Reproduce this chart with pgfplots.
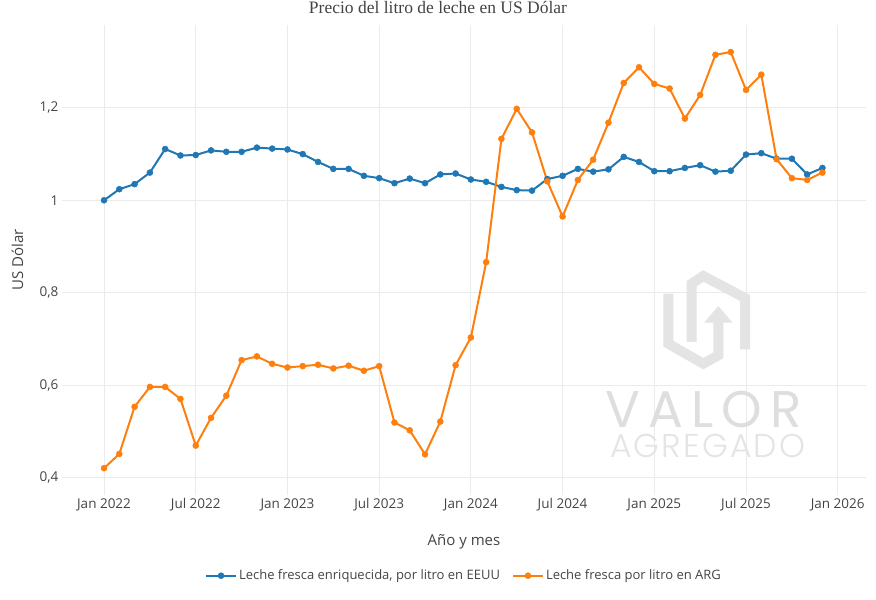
\documentclass[border=0pt]{standalone}
\usepackage{pgfplots}
\pgfplotsset{compat=1.18}
\usepackage{fontspec}
\setmainfont{Open Sans}
\newfontfamily\titlefont{Liberation Serif}
\newfontfamily\wmfont{Poppins}
\newfontfamily\wmlight{Poppins Light}
\definecolor{cblue}{HTML}{1F77B4}
\definecolor{corange}{HTML}{FF7F0E}
\definecolor{txt}{HTML}{444444}
\definecolor{gridc}{HTML}{EBEBEB}
\definecolor{wm}{HTML}{DEDEDE}
\definecolor{wmb}{HTML}{E4E4E4}

\pgfplotstableread{
m v
0 1.000
1 1.024
2 1.035
3 1.060
4 1.111
5 1.097
6 1.098
7 1.108
8 1.105
9 1.105
10 1.114
11 1.112
12 1.110
13 1.100
14 1.083
15 1.068
16 1.068
17 1.053
18 1.048
19 1.037
20 1.047
21 1.037
22 1.056
23 1.058
24 1.045
25 1.040
26 1.029
27 1.022
28 1.021
29 1.046
30 1.053
31 1.068
32 1.062
33 1.067
34 1.094
35 1.083
36 1.063
37 1.063
38 1.070
39 1.076
40 1.062
41 1.064
42 1.099
43 1.102
44 1.090
45 1.090
46 1.056
47 1.070
}\usa

\pgfplotstableread{
m v
0 0.420
1 0.451
2 0.553
3 0.596
4 0.596
5 0.570
6 0.469
7 0.529
8 0.577
9 0.654
10 0.662
11 0.646
12 0.638
13 0.641
14 0.644
15 0.636
16 0.642
17 0.631
18 0.641
19 0.519
20 0.502
21 0.450
22 0.521
23 0.643
24 0.703
25 0.866
26 1.133
27 1.198
28 1.147
29 1.041
30 0.965
31 1.044
32 1.088
33 1.168
34 1.254
35 1.288
36 1.252
37 1.242
38 1.177
39 1.228
40 1.315
41 1.321
42 1.239
43 1.272
44 1.089
45 1.048
46 1.044
47 1.060
}\arg

\begin{document}
\begin{tikzpicture}
\path[use as bounding box] (0pt,0pt) rectangle (876pt,600pt);
\begin{axis}[
  at={(62pt,105pt)}, anchor=south west,
  scale only axis, width=804pt, height=470pt,
  xmin=-2.75, xmax=49.85, ymin=0.362, ymax=1.3795,
  xtick={0,6,12,18,24,30,36,42,48},
  xticklabels={Jan 2022,Jul 2022,Jan 2023,Jul 2023,Jan 2024,Jul 2024,Jan 2025,Jul 2025,Jan 2026},
  ytick={0.4,0.6,0.8,1,1.2},
  /pgf/number format/assume math mode=true,
  /pgf/number format/use comma,
  /pgf/number format/fixed,
  /pgf/number format/precision=1,
  grid=major,
  major grid style={gridc, line width=1pt},
  axis line style={draw=none},
  tick style={draw=none},
  tick label style={font=\fontsize{13.5}{16}\selectfont, text=txt},
  xlabel={Año y mes},
  ylabel={US Dólar},
  label style={font=\fontsize{15}{18}\selectfont, text=txt},
  xlabel style={at={(axis description cs:0.5,-0.099)}, anchor=center},
  ylabel style={at={(axis description cs:-0.0553,0.5)}, anchor=center},
  legend columns=2,
  legend style={at={(axis description cs:0.5,-0.1717)}, anchor=center, draw=none, fill=none,
    font=\fontsize{13}{16}\selectfont, text=txt,
    /tikz/every even column/.append style={column sep=10pt},
    nodes={inner sep=2pt}},
  legend cell align=left,
  legend image code/.code={\draw[mark repeat=2,mark phase=2,#1] plot coordinates {(0pt,0pt) (15pt,0pt) (30pt,0pt)};},
  clip=false,
]
\addplot[cblue, line width=2pt, mark=*, mark size=3pt, mark options={solid, fill=cblue, draw=cblue, line width=0.5pt}] table[x=m, y=v] {\usa};
\addlegendentry{Leche fresca enriquecida, por litro en EEUU}
\addplot[corange, line width=2pt, mark=*, mark size=3pt, mark options={solid, fill=corange, draw=corange, line width=0.5pt}] table[x=m, y=v] {\arg};
\addlegendentry{Leche fresca por litro en ARG}
\end{axis}

% watermark
\begin{scope}[draw=wmb, line width=10pt, line join=miter, line cap=butt]
\draw (668.3pt,306.3pt) -- (668.3pt,256.3pt) -- (703.3pt,236.3pt) -- (718.3pt,244.7pt) -- (718.3pt,278pt);
\fill[wmb] (718.3pt,294pt) -- (704pt,277.3pt) -- (732.6pt,277.3pt) -- cycle;
\draw (691.7pt,258pt) -- (691.7pt,316.3pt) -- (703.3pt,324pt) -- (745pt,302pt) -- (745pt,250.7pt);
\end{scope}
\node[anchor=base west, inner sep=0pt, text=wm] at (605pt,172pt)
  {\makebox[197pt][s]{\wmfont\fontsize{51.6}{55}\selectfont V\hfill A\hfill L\hfill O\hfill R}};
\node[anchor=base west, inner sep=0pt, text=wmb] at (610pt,142pt)
  {\makebox[195pt][s]{\wmlight\fontsize{33}{36}\selectfont A\hfill G\hfill R\hfill E\hfill G\hfill A\hfill D\hfill O}};

\node[anchor=base, inner sep=0pt, text=txt, font=\titlefont\fontsize{17.5}{20}\selectfont] at (438pt,586pt)
  {Precio del litro de leche en US Dólar};
\end{tikzpicture}
\end{document}
